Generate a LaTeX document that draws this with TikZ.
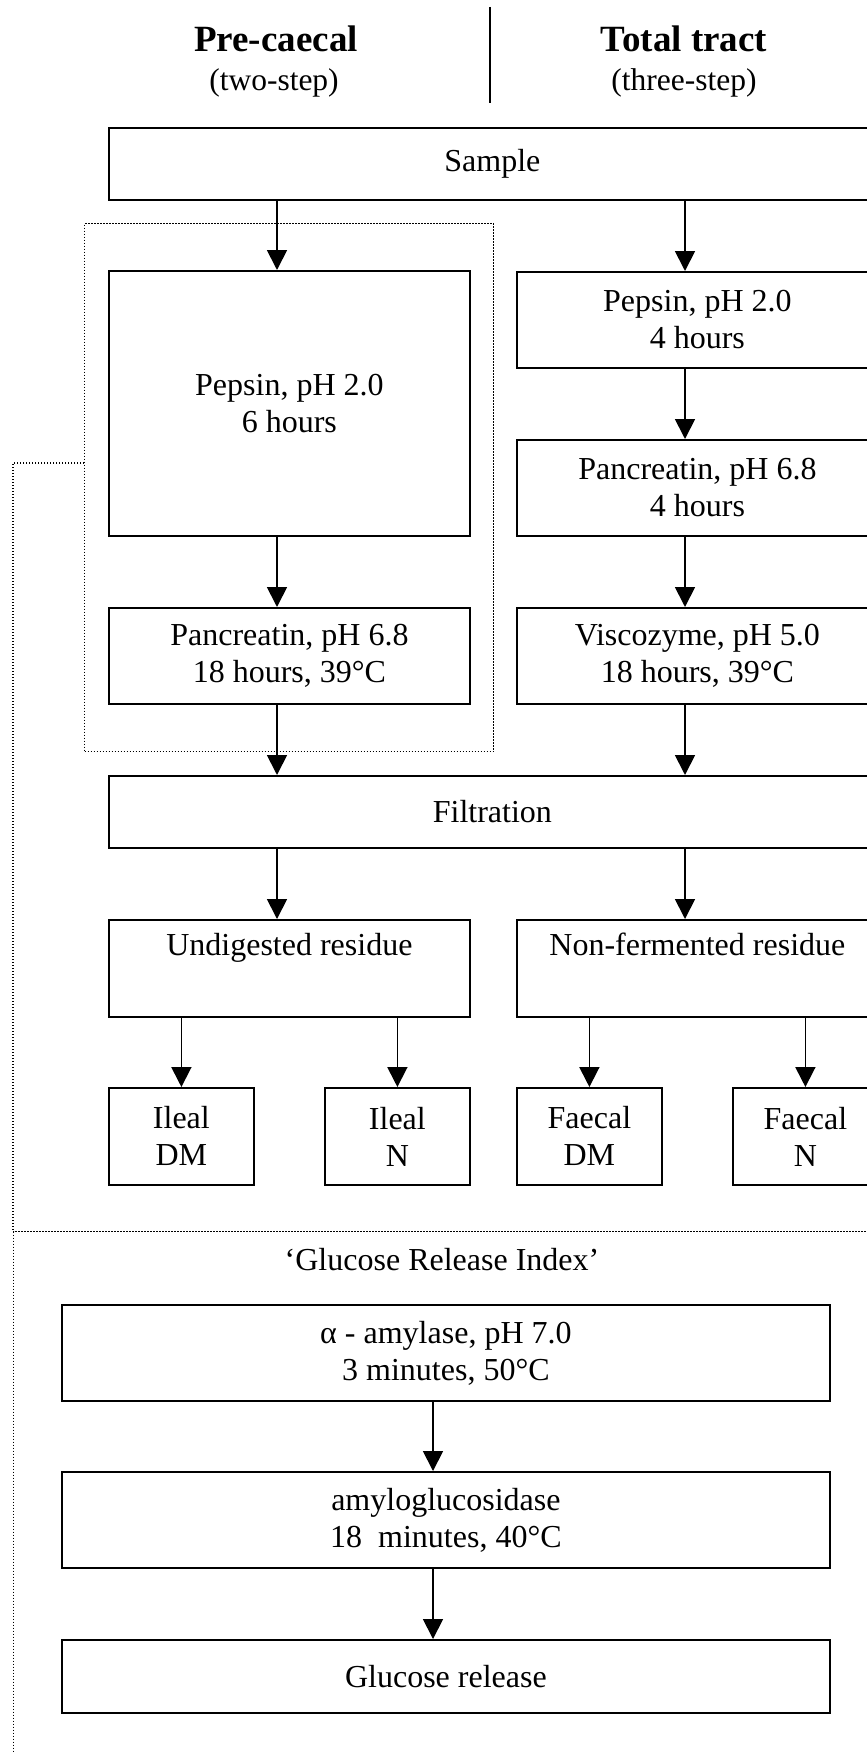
\documentclass[tikz,border=0pt]{standalone}
\usepackage{fontspec}
\setmainfont{Liberation Serif}
\usetikzlibrary{arrows.meta}
\begin{document}
\begin{tikzpicture}[x=1pt,y=-1pt,
  box/.style={draw, line width=1.8pt, rectangle, anchor=north west, inner sep=0pt, align=center, font=\fontsize{32}{37}\selectfont},
  arr/.style={line width=1.8pt, -{Triangle[length=20pt,width=20pt]}},
  dots/.style={line width=1.4pt, dash pattern=on 1.4pt off 1.6pt},
  dotbox/.style={draw, dots, rectangle, anchor=north west, inner sep=0pt},
  title/.style={anchor=base, font=\fontsize{37}{42}\selectfont\bfseries},
  subtitle/.style={anchor=base, font=\fontsize{31.5}{36}\selectfont},
  plain/.style={anchor=base, font=\fontsize{32}{37}\selectfont}]
\useasboundingbox (0,0) rectangle (867,1753);

% titles
\node[title] (t1) at (276,52) {Pre-caecal};
\node[subtitle] (s1) at (274,90) {(two-step)};
\node[title] (t2) at (684,52) {Total tract};
\node[subtitle] (s2) at (684,90) {(three-step)};
\coordinate (d1) at (490,7);
\coordinate (d2) at (490,103);
\draw[line width=1.8pt] (d1) -- (d2);

% dotted frames
\node[dotbox, minimum width=409pt, minimum height=528pt] (prebox) at (84,223) {};
\node[dotbox, minimum width=900pt, minimum height=600pt] (grbox) at (13,1231) {};
\coordinate (lk) at (13,463);
\draw[dots] (prebox.west |- lk) -- (lk) -- (grbox.north west);

% boxes
\node[box, minimum width=767pt, minimum height=72pt] (sample) at (108,127) {Sample};
\node[box, minimum width=361pt, minimum height=265pt] (pepL) at (108,270) {Pepsin, pH 2.0\\6 hours};
\node[box, minimum width=361pt, minimum height=96pt] (panL) at (108,607) {Pancreatin, pH 6.8\\18 hours, 39°C};
\node[box, minimum width=361pt, minimum height=96pt] (pepR) at (516,271) {Pepsin, pH 2.0\\4 hours};
\node[box, minimum width=361pt, minimum height=96pt] (panR) at (516,439) {Pancreatin, pH 6.8\\4 hours};
\node[box, minimum width=361pt, minimum height=96pt] (visR) at (516,607) {Viscozyme, pH 5.0\\18 hours, 39°C};
\node[box, minimum width=767pt, minimum height=72pt] (filt) at (108,775) {Filtration};
\node[box, minimum width=361pt, minimum height=97pt] (undig) at (108,919) {Undigested residue\\\strut};
\node[box, minimum width=361pt, minimum height=97pt] (nonf) at (516,919) {Non-fermented residue\\\strut};
\node[box, minimum width=145pt, minimum height=97pt] (ileDM) at (108,1087) {Ileal\\DM};
\node[box, minimum width=145pt, minimum height=97pt] (ileN) at (324,1087) {Ileal\\N};
\node[box, minimum width=145pt, minimum height=97pt] (faeDM) at (516,1087) {Faecal\\DM};
\node[box, minimum width=145pt, minimum height=97pt] (faeN) at (732,1087) {Faecal\\N};

\node[plain] (gri) at (442,1270) {‘Glucose Release Index’};
\node[box, minimum width=768pt, minimum height=96pt] (alpha) at (61,1304) {α - amylase, pH 7.0\\3 minutes, 50°C};
\node[box, minimum width=768pt, minimum height=96pt] (amylo) at (61,1471) {amyloglucosidase\\18~ minutes, 40°C};
\node[box, minimum width=768pt, minimum height=73pt] (gluc) at (61,1639) {Glucose release};

% arrows
\coordinate (xL) at (277,0);
\coordinate (xR) at (685,0);
\coordinate (xG) at (433,0);
\draw[arr] (sample.south -| xL) -- (pepL.north -| xL);
\draw[arr] (sample.south -| xR) -- (pepR.north -| xR);
\draw[arr] (pepL.south -| xL) -- (panL.north -| xL);
\draw[arr] (pepR.south -| xR) -- (panR.north -| xR);
\draw[arr] (panR.south -| xR) -- (visR.north -| xR);
\draw[arr] (panL.south -| xL) -- (filt.north -| xL);
\draw[arr] (visR.south -| xR) -- (filt.north -| xR);
\draw[arr] (filt.south -| xL) -- (undig.north -| xL);
\draw[arr] (filt.south -| xR) -- (nonf.north -| xR);
\draw[arr] (undig.south -| ileDM.north) -- (ileDM.north);
\draw[arr] (undig.south -| ileN.north) -- (ileN.north);
\draw[arr] (nonf.south -| faeDM.north) -- (faeDM.north);
\draw[arr] (nonf.south -| faeN.north) -- (faeN.north);
\draw[arr] (alpha.south -| xG) -- (amylo.north -| xG);
\draw[arr] (amylo.south -| xG) -- (gluc.north -| xG);
\end{tikzpicture}
\end{document}
